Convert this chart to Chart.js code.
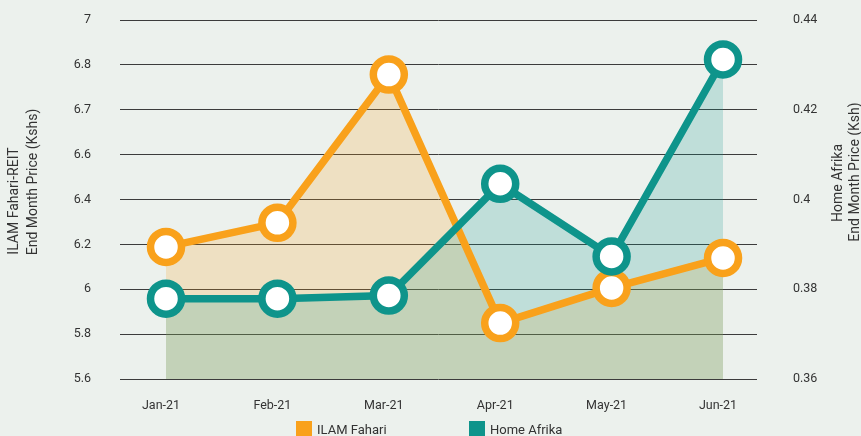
<!DOCTYPE html>
<html>
<head>
<meta charset="utf-8">
<script src="https://cdn.jsdelivr.net/npm/chart.js@4.4.1/dist/chart.umd.min.js"></script>
<style>
  html, body { margin: 0; padding: 0; background: #ecf1ed; }
  #wrap { position: relative; width: 861px; height: 436px; overflow: hidden; }
  #legend { position: absolute; left: 0; top: 421px; width: 861px; height: 16px; font: 13px "Roboto", sans-serif; color: #333; }
  .item { position: absolute; top: 0; height: 16px; line-height: 17px; white-space: nowrap; }
  .item i { display: inline-block; width: 16px; height: 16px; vertical-align: top; margin-right: 5px; }
</style>
</head>
<body>
<div id="wrap">
  <canvas id="chart" width="861" height="436"></canvas>
  <div id="legend"></div>
</div>
<script>
const months = ["Jan-21", "Feb-21", "Mar-21", "Apr-21", "May-21", "Jun-21"];
const ilamFahari = [6.115, 6.209, 6.787, 5.818, 5.955, 6.072];
const homeAfrika = [0.3779, 0.3779, 0.3786, 0.4035, 0.3873, 0.4312];
const leftTickLabels = ["5.6", "5.8", "6", "6.2", "6.4", "6.6", "6.7", "6.8", "7"];
const leftMin = 5.6;
const leftStep = 0.175;
const rightTickLabels = ["0.36", "0.38", "0.4", "0.42", "0.44"];
const rightMin = 0.36;
const rightStep = 0.02;

const orange = "#f9a11b";
const teal = "#0e948b";
const font = "Roboto, sans-serif";

const axisTitles = {
  id: "axisTitles",
  afterDraw(chart) {
    const ctx = chart.ctx;
    const lines = [
      ["ILAM Fahari-REIT", 14, 201],
      ["End Month Price (Kshs)", 33, 182],
      ["Home Afrika", 838, 183],
      ["End Month Price (Ksh)", 855, 172]
    ];
    ctx.save();
    ctx.fillStyle = "#333";
    ctx.font = "14px " + font;
    ctx.textAlign = "center";
    ctx.textBaseline = "middle";
    lines.forEach(([txt, x, y]) => {
      ctx.save();
      ctx.translate(x, y);
      ctx.rotate(-Math.PI / 2);
      ctx.fillText(txt, 0, 0);
      ctx.restore();
    });
    ctx.restore();
  }
};

const chart = new Chart(document.getElementById("chart"), {
  type: "line",
  data: {
    datasets: [
      {
        label: "Home Afrika",
        data: homeAfrika.map((v, i) => ({ x: i, y: v })),
        yAxisID: "y1",
        borderColor: teal,
        backgroundColor: "rgba(14,148,139,0.2)",
        fill: "start",
        borderWidth: 7.5,
        pointRadius: 15.5,
        pointBorderWidth: 7.5,
        pointBackgroundColor: "#fff",
        pointBorderColor: teal,
        tension: 0
      },
      {
        label: "ILAM Fahari",
        data: ilamFahari.map((v, i) => ({ x: i, y: v })),
        yAxisID: "y",
        borderColor: orange,
        backgroundColor: "rgba(249,161,27,0.2)",
        fill: "start",
        borderWidth: 7.5,
        pointRadius: 15.5,
        pointBorderWidth: 7.5,
        pointBackgroundColor: "#fff",
        pointBorderColor: orange,
        tension: 0
      }
    ]
  },
  options: {
    responsive: false,
    devicePixelRatio: 1,
    animation: false,
    clip: false,
    layout: { autoPadding: false, padding: { top: 20 } },
    plugins: {
      legend: { display: false },
      tooltip: { enabled: false },
      filler: { drawTime: "beforeDatasetsDraw" }
    },
    scales: {
      x: {
        type: "linear",
        min: -0.413,
        max: 5.305,
        afterBuildTicks: (s) => { s.ticks = months.map((m, i) => ({ value: i })); },
        afterFit: (s) => { s.height = 57; },
        grid: { display: false, drawTicks: false },
        border: { display: false },
        ticks: {
          padding: 19,
          labelOffset: -5,
          maxRotation: 0,
          autoSkip: false,
          color: "#333",
          font: { family: font, size: 12.5 },
          callback: (v) => months[v]
        }
      },
      y: {
        position: "left",
        min: leftMin,
        max: leftMin + leftStep * (leftTickLabels.length - 1),
        afterBuildTicks: (s) => { s.ticks = leftTickLabels.map((l, i) => ({ value: leftMin + i * leftStep })); },
        afterFit: (s) => { s.width = 120; },
        // tick padding would also push the plot down, so the gap comes from an invisible tick mark
        grid: { color: "#3c3c3c", lineWidth: 1, drawTicks: true, tickLength: 29, tickColor: "rgba(0,0,0,0)" },
        border: { display: false },
        ticks: {
          padding: 0,
          color: "#333",
          font: { family: font, size: 12.5 },
          callback: (v, i) => leftTickLabels[i]
        }
      },
      y1: {
        position: "right",
        min: rightMin,
        max: rightMin + rightStep * (rightTickLabels.length - 1),
        afterBuildTicks: (s) => { s.ticks = rightTickLabels.map((l, i) => ({ value: rightMin + i * rightStep })); },
        afterFit: (s) => { s.width = 104; },
        grid: { drawOnChartArea: false, drawTicks: true, tickLength: 36, tickColor: "rgba(0,0,0,0)" },
        border: { display: false },
        ticks: {
          padding: 0,
          color: "#333",
          font: { family: font, size: 12.5 },
          callback: (v, i) => rightTickLabels[i]
        }
      }
    }
  },
  plugins: [axisTitles]
});

// legend built from the chart's datasets, ILAM Fahari first
const legendEl = document.getElementById("legend");
const legendX = [296, 469];
[...chart.data.datasets].reverse().forEach((ds, i) => {
  const item = document.createElement("div");
  item.className = "item";
  item.style.left = legendX[i] + "px";
  item.innerHTML = `<i style="background:${ds.borderColor}"></i>${ds.label}`;
  legendEl.appendChild(item);
});
</script>
</body>
</html>
